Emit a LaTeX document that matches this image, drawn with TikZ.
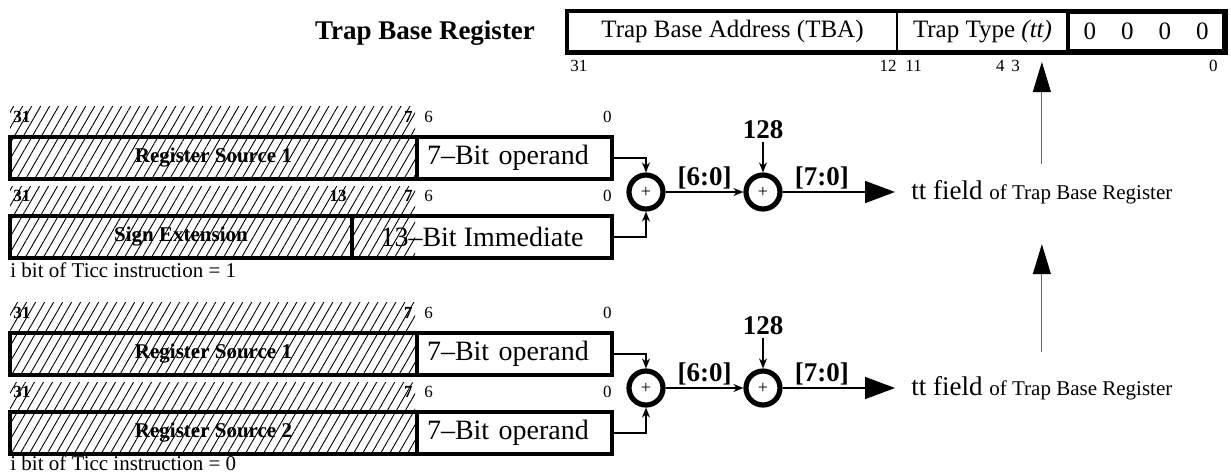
\documentclass[tikz,border=0pt]{standalone}
\usepackage{fontspec}
\setmainfont{Liberation Serif}
\usetikzlibrary{arrows.meta,patterns.meta}

\begin{document}
\begin{tikzpicture}[x=0.5pt, y=-0.5pt,
        field/.style = {draw, line width=2.2pt, inner sep=0pt, minimum height=21pt, font=\fontsize{14}{15}\selectfont},
        opd/.style = {field, text width=87.5pt, inner xsep=5pt, align=left},
        regname/.style = {field, font=\fontsize{10.5}{12}\bfseries},
        topf/.style = {draw, line width=1pt, inner sep=0pt, minimum height=19.5pt, font=\fontsize{12.5}{13}\selectfont},
        bit/.style = {inner sep=0pt, font=\fontsize{8.5}{9}\selectfont},
        hbit/.style = {bit, font=\fontsize{8.5}{9}\bfseries},
        adder/.style = {draw, circle, line width=2.6pt, minimum size=17pt, inner sep=0pt, font=\fontsize{9}{9}\selectfont},
        lab/.style = {inner sep=1pt, font=\fontsize{13.5}{14}\bfseries},
        note/.style = {inner sep=0pt, anchor=west, font=\fontsize{10.5}{12}\selectfont},
        tt/.style = {inner xsep=8pt, inner ysep=2pt, anchor=west},
        hatch/.style = {pattern={Lines[angle=60, distance=3.9pt, line width=0.45pt]}},
        ar/.style = {thick, -{Stealth[length=5pt, width=4pt]}},
        bigar/.style = {thick, -{Triangle[length=15pt, width=11pt]}},
        upar/.style = {thin, black!60, -{Triangle[length=15pt, width=9pt, black]}}]

        \useasboundingbox (0,0) rectangle (1231,473);

        % trap base register
        \node[font=\fontsize{13.5}{14}\bfseries] (tbr) at (425,33) {Trap Base Register};
        \node[topf, minimum width=164.5pt] (tba) at (732.5,31.5) {Trap Base Address (TBA)};
        \node[topf, minimum width=85.5pt] (ttf) at (982.5,31.5) {Trap Type \textit{(tt)}};
        \node[topf, minimum width=78pt, line width=1.6pt] (zro) at (1146,31.5) {0\quad 0\quad 0\quad 0};
        \draw[line width=2.2pt] (tba.north west) rectangle (zro.south east);

        \node[bit, anchor=west] (t31) at (570,66) {31};
        \node[bit, anchor=east] (t12) at (897,66) {12};
        \node[bit, anchor=west] (t11) at (905,66) {11};
        \node[bit, anchor=east] (t4) at (1005,66) {4};
        \node[bit, anchor=west] (t3) at (1011,66) {3};
        \node[bit, anchor=east] (t0) at (1218,66) {0};
        \coordinate (ttin) at (1043,62);

        % i = 1
        \fill[hatch] (10,106) rectangle (415,180);
        \fill[hatch] (10,186) rectangle (415,258);

        \node[regname, minimum width=203.5pt] (rs1) at (213.5,158) {Register Source 1};
        \node[opd] (op1) at (514.5,158) {7--Bit operand};
        \node[regname, minimum width=171pt] (sx) at (181,237) {Sign Extension};
        \node[field, minimum width=130pt] (imm) at (482,237) {13--Bit Immediate};

        \node[hbit, anchor=west] (a31) at (13,117) {31};
        \node[hbit, anchor=east] (a7) at (413,117) {7};
        \node[bit, anchor=west] (a6) at (424,117) {6};
        \node[bit, anchor=east] (a0) at (612,117) {0};
        \node[hbit, anchor=west] (b31) at (13,196) {31};
        \node[hbit, anchor=east] (b13) at (347,196) {13};
        \node[hbit, anchor=east] (b7) at (413,196) {7};
        \node[bit, anchor=west] (b6) at (424,196) {6};
        \node[bit, anchor=east] (b0) at (612,196) {0};
        \node[note] (i1) at (10,270) {i bit of Ticc instruction = 1};

        \node[adder] (add1) at (646,192) {+};
        \node[adder] (add2) at (763,192) {+};
        \node[lab] (c1) at (763,130) {128};
        \node[tt] (tt1) at (895,192) {\fontsize{13.5}{14}\selectfont tt field \fontsize{10.5}{12}\selectfont of Trap Base Register};

        \draw[ar] (op1.east) -| (add1.north);
        \draw[ar] (imm.east) -| (add1.south);
        \draw[ar] (add1) -- node[lab, above] {[6:0]} (add2);
        \draw[ar] (c1) -- (add2);
        \draw[bigar] (add2) -- node[lab, above, pos=0.35] {[7:0]} (tt1);

        % i = 0
        \fill[hatch] (10,302) rectangle (415,376);
        \fill[hatch] (10,382) rectangle (415,454);

        \node[regname, minimum width=203.5pt] (rs1b) at (213.5,354) {Register Source 1};
        \node[opd] (op1b) at (514.5,354) {7--Bit operand};
        \node[regname, minimum width=203.5pt] (rs2) at (213.5,433) {Register Source 2};
        \node[opd] (op2) at (514.5,433) {7--Bit operand};

        \node[hbit, anchor=west] (c31) at (13,313) {31};
        \node[hbit, anchor=east] (c7) at (413,313) {7};
        \node[bit, anchor=west] (c6) at (424,313) {6};
        \node[bit, anchor=east] (c0) at (612,313) {0};
        \node[hbit, anchor=west] (d31) at (13,392) {31};
        \node[hbit, anchor=east] (d7) at (413,392) {7};
        \node[bit, anchor=west] (d6) at (424,392) {6};
        \node[bit, anchor=east] (d0) at (612,392) {0};
        \node[note] (i0) at (10,463) {i bit of Ticc instruction = 0};

        \node[adder] (add3) at (646,388) {+};
        \node[adder] (add4) at (763,388) {+};
        \node[lab] (c2) at (763,326) {128};
        \node[tt] (tt2) at (895,388) {\fontsize{13.5}{14}\selectfont tt field \fontsize{10.5}{12}\selectfont of Trap Base Register};

        \draw[ar] (op1b.east) -| (add3.north);
        \draw[ar] (op2.east) -| (add3.south);
        \draw[ar] (add3) -- node[lab, above] {[6:0]} (add4);
        \draw[ar] (c2) -- (add4);
        \draw[bigar] (add4) -- node[lab, above, pos=0.35] {[7:0]} (tt2);

        % to the tt field
        \draw[upar, shorten <=6pt] (tt1.north) -- (tt1.north |- ttin);
        \draw[upar, shorten <=10pt, shorten >=18pt] (tt2.north) -- (tt1.south);
    \end{tikzpicture}
\end{document}
